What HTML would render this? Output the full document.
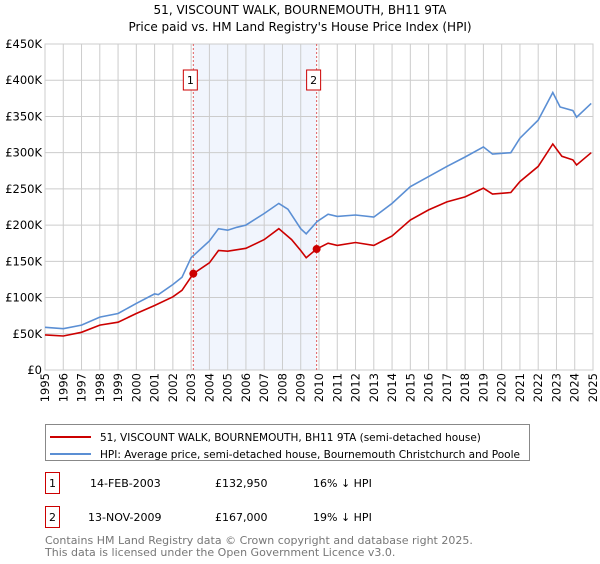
<!DOCTYPE html>
<html><head><meta charset="utf-8"><style>
body{margin:0;background:#fff;font-family:"DejaVu Sans","Liberation Sans",sans-serif;}
svg text{font-family:"DejaVu Sans","Liberation Sans",sans-serif;}
</style></head><body>
<svg width="600" height="560" xmlns="http://www.w3.org/2000/svg">
<g id="g"></g>
</svg>
<script>
const yearTicks=[1995,1996,1997,1998,1999,2000,2001,2002,2003,2004,2005,2006,2007,2008,2009,2010,2011,2012,2013,2014,2015,2016,2017,2018,2019,2020,2021,2022,2023,2024,2025];
const valueTicks=[0,50000,100000,150000,200000,250000,300000,350000,400000,450000];
const valueTickLabels=["£0","£50K","£100K","£150K","£200K","£250K","£300K","£350K","£400K","£450K"];
const hpiYears=[1995,1996,1997,1998,1999,2000,2001,2001.2,2002,2002.5,2003,2004,2004.5,2005,2005.5,2006,2007,2007.8,2008.3,2009,2009.3,2009.9,2010.5,2011,2012,2013,2014,2015,2016,2017,2018,2019,2019.5,2020.5,2021,2022,2022.8,2023.2,2023.9,2024.1,2024.9];
const hpiValues=[59000,57000,62000,73000,78000,92000,105000,104000,118000,128000,155000,178000,195000,193000,197000,200000,216000,230000,222000,195000,188000,205000,215000,212000,214000,211000,230000,253000,267000,281000,294000,308000,298000,300000,320000,345000,383000,363000,358000,349000,368000];
const priceYears=[1995,1996,1997,1998,1999,2000,2001,2002,2002.5,2003.12,2004,2004.5,2005,2006,2007,2007.8,2008.5,2009,2009.3,2009.87,2010.5,2011,2012,2013,2014,2015,2016,2017,2018,2019,2019.5,2020.5,2021,2022,2022.8,2023.3,2023.9,2024.1,2024.9];
const priceValues=[48500,47000,52000,62000,66000,78000,89000,101000,110000,132950,148000,165000,164000,168000,180000,195000,180000,165000,155000,167000,175000,172000,176000,172000,185000,207000,221000,232000,239000,251000,243000,245000,260000,281000,312000,295000,290000,283000,300000];
const saleYears=[2003.12,2009.87];
const saleValues=[132950,167000];
const saleLabels=["1","2"];
const L=45,R=593,T=44,B=370;
const x=v=>L+(v-1995)/30*(R-L);
const y=v=>B-v/450000*(B-T);
const g=document.getElementById('g');
const NS='http://www.w3.org/2000/svg';
function mk(t,a,p){const e=document.createElementNS(NS,t);for(const k in a)e.setAttribute(k,a[k]);(p||g).appendChild(e);return e;}
let sh=mk('rect',{x:x(saleYears[0]),y:T,width:x(saleYears[1])-x(saleYears[0]),height:B-T,fill:'#eef3fc',opacity:0.8});


valueTicks.forEach((v,i)=>{
 let l=mk('line',{x1:L,x2:R,y1:y(v),y2:y(v),stroke:'#cccccc'});
 
 
 let t=mk('text',{x:L-3,y:y(v)+4,'text-anchor':'end','font-size':'11.5',fill:'#000'});
 t.textContent=valueTickLabels[i];
 
 
});
yearTicks.forEach(v=>{
 let l=mk('line',{x1:x(v),x2:x(v),y1:T,y2:B,stroke:'#cccccc'});
 
 
 let gg=mk('g',{transform:'translate('+(x(v)+4)+','+(B+3)+') rotate(-90)'});
 let t=mk('text',{x:0,y:0,'text-anchor':'end','font-size':'11.5',fill:'#000'},gg);
 t.textContent=v;
 
 
});
let ax=mk('rect',{x:L,y:T,width:R-L,height:B-T,fill:'none',stroke:'#cccccc'});


saleYears.forEach((v,i)=>{
 let l=mk('line',{x1:x(v),x2:x(v),y1:T,y2:B,stroke:'#e06060','stroke-dasharray':'2,2'});
 
 
 let r=mk('rect',{x:x(v)-10,y:70,width:14,height:20,fill:'#fff',stroke:'#cc0000'});
 
 
 let t=mk('text',{x:x(v)-3,y:84,'text-anchor':'middle','font-size':'11',fill:'#000'});
 t.textContent=saleLabels[i];
 
 
});
function line(xs,vs,c,n){let d=xs.map((a,i)=>(i?'L':'M')+x(a).toFixed(1)+','+y(vs[i]).toFixed(1)).join('');
 let p=mk('path',{d:d,fill:'none',stroke:c,'stroke-width':1.6});
 
 }
line(hpiYears,hpiValues,'#5b8fd4','hpi-line');
line(priceYears,priceValues,'#cc0000','price-line');
saleYears.forEach((v,i)=>{
 let c=mk('circle',{cx:x(v),cy:y(saleValues[i]),r:4,fill:'#cc0000'});
 
 
});
</script>
<svg style="position:absolute;left:0;top:0" width="600" height="560" xmlns="http://www.w3.org/2000/svg">
<text x="300" y="14" text-anchor="middle" font-size="12">51, VISCOUNT WALK, BOURNEMOUTH, BH11 9TA</text>
<text x="300" y="31" text-anchor="middle" font-size="12">Price paid vs. HM Land Registry's House Price Index (HPI)</text>
<g>
<rect x="45.5" y="424.5" width="484" height="36" fill="#fff" stroke="#888"/>
<line x1="50" x2="91" y1="437" y2="437" stroke="#cc0000" stroke-width="2"/>
<text x="100" y="441" font-size="10.5">51, VISCOUNT WALK, BOURNEMOUTH, BH11 9TA (semi-detached house)</text>
<line x1="50" x2="91" y1="454" y2="454" stroke="#5b8fd4" stroke-width="2"/>
<text x="100" y="458" font-size="10.5" textLength="420" lengthAdjust="spacingAndGlyphs">HPI: Average price, semi-detached house, Bournemouth Christchurch and Poole</text>
</g>
<g font-size="11">
<rect x="45.5" y="472.5" width="14" height="21" fill="none" stroke="#cc0000"/>
<text x="52.5" y="487" text-anchor="middle">1</text>
<text x="90" y="487">14-FEB-2003</text><text x="215" y="487">£132,950</text><text x="313" y="487">16% ↓ HPI</text>
<rect x="45.5" y="506.5" width="14" height="21" fill="none" stroke="#cc0000"/>
<text x="52.5" y="521" text-anchor="middle">2</text>
<text x="88" y="521">13-NOV-2009</text><text x="215" y="521">£167,000</text><text x="313" y="521">19% ↓ HPI</text>
</g>
<text x="45" y="544" font-size="11" fill="#777">Contains HM Land Registry data © Crown copyright and database right 2025.</text>
<text x="45" y="556" font-size="11" fill="#777">This data is licensed under the Open Government Licence v3.0.</text>
</svg>
</body></html>
